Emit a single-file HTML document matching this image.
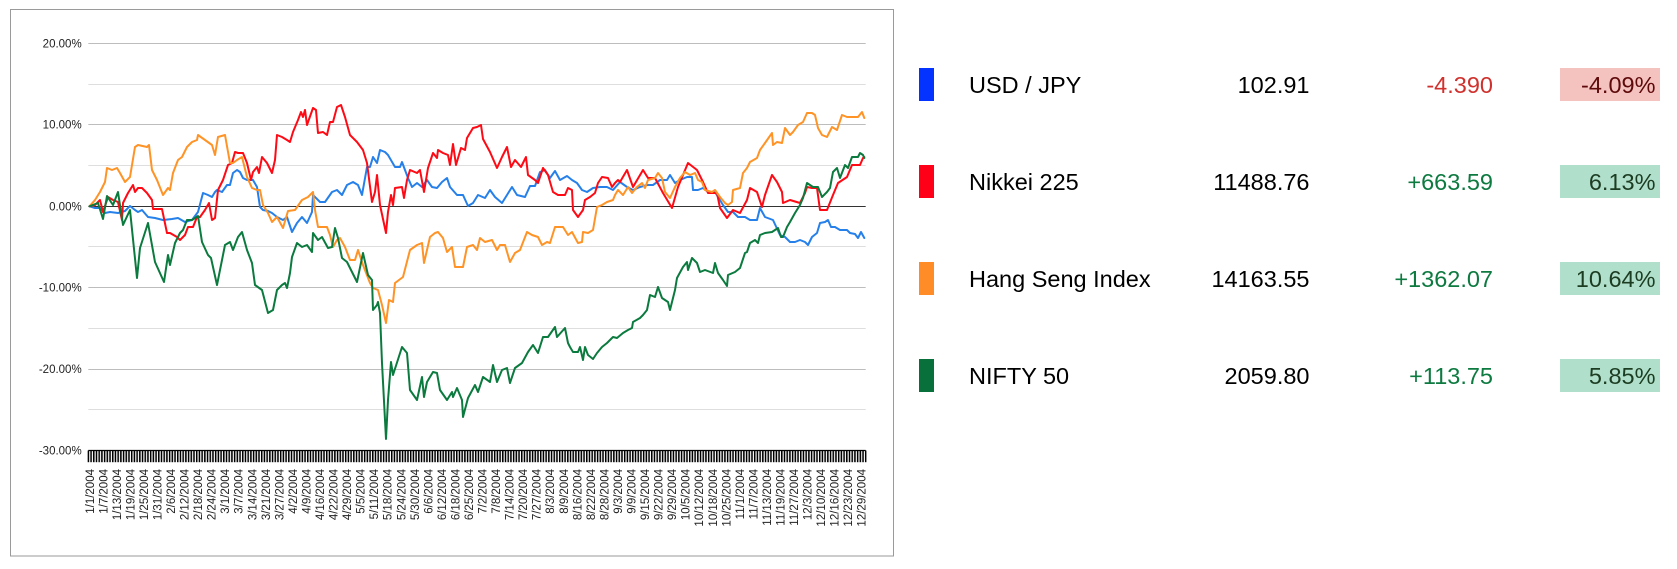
<!DOCTYPE html>
<html>
<head>
<meta charset="utf-8">
<style>
  html, body { margin:0; padding:0; background:#ffffff; }
  body { width:1677px; height:569px; overflow:hidden; }
  svg { display:block; }
  .ax { font-family:"Liberation Sans", Arial, sans-serif; font-size:11.5px; fill:#222; }
  .lg { font-family:"Liberation Sans", Arial, sans-serif; font-size:23.5px; }
</style>
</head>
<body>
<svg width="1677" height="569" viewBox="0 0 1677 569" xmlns="http://www.w3.org/2000/svg">
  <defs>
    <pattern id="ticks" patternUnits="userSpaceOnUse" x="87.6" y="0" width="2.7087" height="20">
      <rect x="0" y="0" width="1.55" height="20" fill="#000"/>
    </pattern>
  </defs>

  <!-- chart border -->
  <rect x="10.5" y="9.5" width="883" height="546.5" fill="#fff" stroke="#9a9a9a" stroke-width="1"/>

  <!-- minor gridlines -->
  <g stroke="#dedede" stroke-width="1">
    <line x1="88.3" y1="84.5" x2="865.7" y2="84.5"/>
    <line x1="88.3" y1="165.5" x2="865.7" y2="165.5"/>
    <line x1="88.3" y1="246.5" x2="865.7" y2="246.5"/>
    <line x1="88.3" y1="328.5" x2="865.7" y2="328.5"/>
    <line x1="88.3" y1="409.5" x2="865.7" y2="409.5"/>
  </g>
  <!-- major gridlines -->
  <g stroke="#bdbdbd" stroke-width="1">
    <line x1="88.3" y1="43.5" x2="865.7" y2="43.5"/>
    <line x1="88.3" y1="124.5" x2="865.7" y2="124.5"/>
    <line x1="88.3" y1="287.5" x2="865.7" y2="287.5"/>
    <line x1="88.3" y1="369.5" x2="865.7" y2="369.5"/>
  </g>
  <!-- zero line -->
  <line x1="88.3" y1="206.5" x2="865.7" y2="206.5" stroke="#333" stroke-width="1"/>
  <!-- bottom axis + ticks -->
  <line x1="88.3" y1="450.5" x2="865.7" y2="450.5" stroke="#000" stroke-width="1.2"/>
  <rect x="87.6" y="450.5" width="778.9" height="11.7" fill="url(#ticks)"/>

  <!-- y labels -->
  <g class="ax" text-anchor="end">
    <text x="81.7" y="47.4">20.00%</text>
    <text x="81.7" y="128.6">10.00%</text>
    <text x="81.7" y="210.3">0.00%</text>
    <text x="81.7" y="291.6">-10.00%</text>
    <text x="81.7" y="373.1">-20.00%</text>
    <text x="81.7" y="454.5">-30.00%</text>
  </g>

  <!-- x labels -->
  <g class="ax" text-anchor="end">
    <text transform="translate(93.75,469) rotate(-90)">1/1/2004</text>
    <text transform="translate(107.29,469) rotate(-90)">1/7/2004</text>
    <text transform="translate(120.84,469) rotate(-90)">1/13/2004</text>
    <text transform="translate(134.38,469) rotate(-90)">1/19/2004</text>
    <text transform="translate(147.92,469) rotate(-90)">1/25/2004</text>
    <text transform="translate(161.47,469) rotate(-90)">1/31/2004</text>
    <text transform="translate(175.01,469) rotate(-90)">2/6/2004</text>
    <text transform="translate(188.55,469) rotate(-90)">2/12/2004</text>
    <text transform="translate(202.10,469) rotate(-90)">2/18/2004</text>
    <text transform="translate(215.64,469) rotate(-90)">2/24/2004</text>
    <text transform="translate(229.19,469) rotate(-90)">3/1/2004</text>
    <text transform="translate(242.73,469) rotate(-90)">3/7/2004</text>
    <text transform="translate(256.27,469) rotate(-90)">3/14/2004</text>
    <text transform="translate(269.82,469) rotate(-90)">3/21/2004</text>
    <text transform="translate(283.36,469) rotate(-90)">3/27/2004</text>
    <text transform="translate(296.90,469) rotate(-90)">4/2/2004</text>
    <text transform="translate(310.45,469) rotate(-90)">4/9/2004</text>
    <text transform="translate(323.99,469) rotate(-90)">4/16/2004</text>
    <text transform="translate(337.53,469) rotate(-90)">4/22/2004</text>
    <text transform="translate(351.08,469) rotate(-90)">4/29/2004</text>
    <text transform="translate(364.62,469) rotate(-90)">5/5/2004</text>
    <text transform="translate(378.16,469) rotate(-90)">5/11/2004</text>
    <text transform="translate(391.71,469) rotate(-90)">5/18/2004</text>
    <text transform="translate(405.25,469) rotate(-90)">5/24/2004</text>
    <text transform="translate(418.79,469) rotate(-90)">5/30/2004</text>
    <text transform="translate(432.34,469) rotate(-90)">6/6/2004</text>
    <text transform="translate(445.88,469) rotate(-90)">6/12/2004</text>
    <text transform="translate(459.42,469) rotate(-90)">6/18/2004</text>
    <text transform="translate(472.97,469) rotate(-90)">6/25/2004</text>
    <text transform="translate(486.51,469) rotate(-90)">7/2/2004</text>
    <text transform="translate(500.06,469) rotate(-90)">7/8/2004</text>
    <text transform="translate(513.60,469) rotate(-90)">7/14/2004</text>
    <text transform="translate(527.14,469) rotate(-90)">7/20/2004</text>
    <text transform="translate(540.69,469) rotate(-90)">7/27/2004</text>
    <text transform="translate(554.23,469) rotate(-90)">8/3/2004</text>
    <text transform="translate(567.77,469) rotate(-90)">8/9/2004</text>
    <text transform="translate(581.32,469) rotate(-90)">8/16/2004</text>
    <text transform="translate(594.86,469) rotate(-90)">8/22/2004</text>
    <text transform="translate(608.40,469) rotate(-90)">8/28/2004</text>
    <text transform="translate(621.95,469) rotate(-90)">9/3/2004</text>
    <text transform="translate(635.49,469) rotate(-90)">9/9/2004</text>
    <text transform="translate(649.03,469) rotate(-90)">9/15/2004</text>
    <text transform="translate(662.58,469) rotate(-90)">9/22/2004</text>
    <text transform="translate(676.12,469) rotate(-90)">9/29/2004</text>
    <text transform="translate(689.66,469) rotate(-90)">10/5/2004</text>
    <text transform="translate(703.21,469) rotate(-90)">10/12/2004</text>
    <text transform="translate(716.75,469) rotate(-90)">10/18/2004</text>
    <text transform="translate(730.29,469) rotate(-90)">10/25/2004</text>
    <text transform="translate(743.84,469) rotate(-90)">11/1/2004</text>
    <text transform="translate(757.38,469) rotate(-90)">11/7/2004</text>
    <text transform="translate(770.92,469) rotate(-90)">11/13/2004</text>
    <text transform="translate(784.47,469) rotate(-90)">11/19/2004</text>
    <text transform="translate(798.01,469) rotate(-90)">11/27/2004</text>
    <text transform="translate(811.56,469) rotate(-90)">12/3/2004</text>
    <text transform="translate(825.10,469) rotate(-90)">12/10/2004</text>
    <text transform="translate(838.64,469) rotate(-90)">12/16/2004</text>
    <text transform="translate(852.19,469) rotate(-90)">12/23/2004</text>
    <text transform="translate(865.73,469) rotate(-90)">12/29/2004</text>
  </g>

  <!-- series -->
  <g fill="none" stroke-width="2" stroke-linejoin="round" stroke-linecap="round">
    <!-- USD/JPY -->
    <polyline stroke="#2680ea" points="89.5,206.3 95,208 100,208 105,213 110,212 118,213 125,211 130,206 135,210 138,212 142,210 148,217 155,218 163,220 172,219 178,218 185,222 192,220 198,212 203,193 208,195 212,197 215,192 217,190 222,192 227,185 230,185 233,173 237,170 240,172 243,178 247,180 253,180 257,187 260,207 263,210 268,211 272,213 277,217 283,220 287,217 292,232 297,223 302,217 307,223 312,212 313,195 320,202 325,202 332,192 337,190 342,195 347,185 353,182 358,185 362,195 367,167 370,167 373,157 377,163 380,150 385,152 388,155 395,167 400,167 402,162 405,170 408,178 412,187 417,183 422,187 427,180 432,187 437,188 442,182 447,178 450,187 457,195 463,195 468,206 473,203 478,195 485,198 490,190 495,197 502,203 507,195 512,187 517,195 525,197 530,186 535,186 540,172 545,170 550,178 555,171 560,180 567,176 572,180 577,183 582,190 587,192 593,188 600,187 607,187 613,190 620,182 627,187 633,190 640,187 647,185 653,185 660,180 667,180 670,175 675,183 680,180 687,177 692,177 693,190 698,190 703,188 708,192 715,192 718,197 723,205 728,212 733,212 738,217 745,217 750,220 757,220 760,208 765,217 773,220 780,235 785,237 790,242 795,242 800,240 805,242 808,245 812,237 817,233 820,223 825,222 828,220 831,227 835,227 840,230 847,230 850,233 855,234 858,238 861,232 864.3,238"/>
    <!-- Nikkei -->
    <polyline stroke="#ff0a14" points="89.5,206.3 95,205 100,200 103,212 108,197 113,200 118,202 122,220 123,203 128,193 133,185 135,192 138,188 142,188 147,193 152,200 153,209 162,209 167,233 170,233 177,237 180,240 185,235 188,227 193,227 197,217 200,217 205,210 209,203 212,220 215,218 218,190 223,180 228,165 232,163 235,152 238,153 243,153 247,163 251,180 253,172 257,167 259,173 262,157 267,163 272,173 275,160 277,135 282,137 287,140 290,142 293,132 298,120 301,112 303,117 305,110 307,125 313,108 316,110 318,133 323,132 327,135 330,122 333,122 337,107 341,105 345,117 350,135 357,142 363,150 367,163 372,202 375,192 377,175 380,205 386,233 388,212 391,195 393,205 395,188 402,187 404,198 407,180 410,170 417,173 420,170 424,192 428,168 433,153 437,158 438,150 443,153 448,155 450,165 453,144 456,165 461,148 465,150 467,138 473,128 477,127 481,125 483,139 490,152 497,168 502,157 507,147 511,167 515,160 521,167 526,157 528,175 535,180 538,183 543,168 548,175 553,192 558,195 565,195 568,188 572,190 573,210 578,217 583,210 585,200 590,197 595,193 598,183 602,177 608,178 612,187 615,183 618,180 620,182 627,170 633,187 643,170 648,178 655,178 663,193 672,208 678,187 688,163 697,170 703,182 708,193 717,193 720,208 727,218 733,210 740,213 747,200 750,188 757,192 762,207 765,195 772,175 777,182 782,192 783,203 790,200 800,203 805,193 807,187 812,188 817,188 820,210 827,210 833,195 838,183 847,177 852,165 860,165 863,158 864.3,157"/>
    <!-- Hang Seng -->
    <polyline stroke="#ff9326" points="89.5,206.3 95,200 100,192 105,182 107,168 112,170 117,168 120,173 125,182 130,177 135,147 138,145 147,147 149,145 152,170 157,180 163,195 168,188 170,190 173,173 178,160 182,157 187,147 192,142 197,140 198,135 205,140 212,145 215,155 218,137 225,135 230,163 233,163 237,160 242,157 247,177 252,188 257,190 260,190 263,205 268,213 272,222 277,217 283,228 288,211 295,210 302,200 308,197 313,192 315,210 318,227 327,227 330,235 333,247 337,240 340,238 345,247 350,260 355,260 358,250 363,265 370,283 373,288 378,290 382,305 386,323 389,300 393,302 395,283 403,277 410,250 417,245 422,243 424,263 430,237 435,233 438,232 443,238 447,252 452,247 455,267 463,267 467,247 473,245 477,250 480,238 485,242 492,240 497,250 500,245 505,245 510,262 515,253 520,250 527,232 532,235 538,237 542,245 547,242 550,243 555,227 563,227 568,235 572,232 578,243 582,242 583,232 588,233 593,230 597,207 602,205 607,202 613,200 615,195 618,190 623,195 628,187 632,193 637,187 642,183 645,188 648,180 655,178 658,173 662,178 665,192 670,198 675,187 680,178 685,172 690,175 695,173 698,180 702,182 705,190 712,192 715,190 720,197 725,203 728,205 732,202 733,190 740,188 743,173 747,168 750,162 757,158 760,150 765,143 772,133 773,145 777,142 782,143 785,128 790,135 793,132 798,125 803,122 807,113 812,113 815,115 818,128 822,135 827,137 832,127 837,130 842,115 847,117 850,117 858,117 862,112 864.3,118"/>
    <!-- NIFTY -->
    <polyline stroke="#0b7a3e" points="89.5,206.3 98,203 103,219 107,196 113,205 118,192 123,225 130,210 137,278 140,248 148,223 155,262 164,282 168,255 170,265 175,243 180,233 183,230 187,220 192,220 198,216 202,242 208,255 211,258 217,285 225,245 230,242 233,250 238,237 242,232 247,250 252,263 255,285 262,290 268,313 273,310 277,290 282,285 285,283 287,288 290,273 292,257 297,243 302,247 307,245 312,252 313,233 318,240 322,237 328,248 332,247 335,228 338,238 342,258 347,262 352,272 357,282 363,253 368,275 372,280 373,310 377,305 378,302 380,313 382,363 386,439 388,400 391,362 393,375 402,347 407,353 410,390 417,400 422,377 424,397 427,382 433,372 437,373 440,390 447,400 452,392 453,397 457,388 462,400 463,417 468,398 475,385 478,392 483,377 490,382 493,365 497,382 502,370 507,368 510,383 515,368 522,363 528,352 533,345 538,353 543,337 548,337 555,327 557,337 565,328 568,343 570,347 573,352 578,352 580,347 583,360 585,347 588,355 593,359 597,353 602,347 607,343 613,337 617,338 623,333 628,330 632,328 633,322 640,318 643,315 647,310 650,295 655,297 658,287 662,298 668,302 670,310 675,290 677,278 683,267 687,262 688,270 692,258 697,263 700,272 705,270 713,273 715,263 718,273 723,280 727,286 728,275 735,272 740,268 745,253 747,252 750,243 755,240 758,243 760,235 765,233 772,232 778,228 781,237 783,237 787,227 790,222 795,213 800,205 803,198 807,183 813,187 818,187 822,197 827,192 830,188 833,172 837,168 840,178 845,165 848,168 852,157 858,157 860,153 863,155 864.3,158"/>
  </g>

  <!-- legend / table -->
  <rect x="919" y="68" width="15" height="33" fill="#0433ff"/>
  <rect x="919" y="165" width="15" height="33" fill="#ff0018"/>
  <rect x="919" y="262" width="15" height="33" fill="#ff8c26"/>
  <rect x="919" y="359" width="15" height="33" fill="#08703a"/>

  <rect x="1560" y="68" width="100" height="33" fill="#f4c3c0"/>
  <rect x="1560" y="165" width="100" height="33" fill="#b0dfcb"/>
  <rect x="1560" y="262" width="100" height="33" fill="#b0dfcb"/>
  <rect x="1560" y="359" width="100" height="33" fill="#b0dfcb"/>

  <g class="lg" fill="#000">
    <text x="969" y="93.2">USD / JPY</text>
    <text x="969" y="190.2">Nikkei 225</text>
    <text x="969" y="287.2">Hang Seng Index</text>
    <text x="969" y="384.2">NIFTY 50</text>
  </g>
  <g class="lg" fill="#000" text-anchor="end">
    <text x="1309.5" y="93.2">102.91</text>
    <text x="1309.5" y="190.2">11488.76</text>
    <text x="1309.5" y="287.2">14163.55</text>
    <text x="1309.5" y="384.2">2059.80</text>
  </g>
  <g class="lg" text-anchor="end">
    <text x="1493" y="93.2" fill="#d0312d">-4.390</text>
    <text x="1493" y="190.2" fill="#0d7a40">+663.59</text>
    <text x="1493" y="287.2" fill="#0d7a40">+1362.07</text>
    <text x="1493" y="384.2" fill="#0d7a40">+113.75</text>
  </g>
  <g class="lg" text-anchor="end">
    <text x="1655.5" y="93.2" fill="#5e0a0a">-4.09%</text>
    <text x="1655.5" y="190.2" fill="#1d3d22">6.13%</text>
    <text x="1655.5" y="287.2" fill="#1d3d22">10.64%</text>
    <text x="1655.5" y="384.2" fill="#1d3d22">5.85%</text>
  </g>
</svg>
</body>
</html>
